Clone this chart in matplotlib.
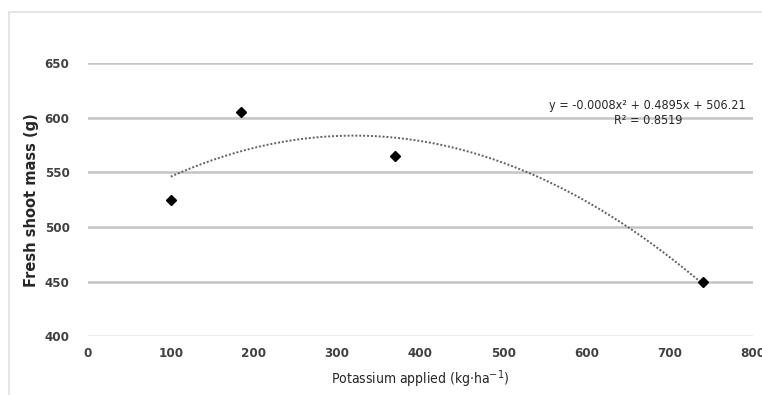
import matplotlib.pyplot as plt
import matplotlib.patches as patches
import numpy as np

# potassium rates and measured fresh shoot mass
potassium = np.array([100, 185, 370, 740])
shoot_mass = np.array([525, 605, 565, 450])

x_ticks = [0, 100, 200, 300, 400, 500, 600, 700, 800]
y_ticks = [400, 450, 500, 550, 600, 650]

narrow = ['Liberation Sans Narrow', 'DejaVu Sans']
tick_color = '#404040'

fig = plt.figure(figsize=(7.62, 3.95), dpi=100)
ax = fig.add_axes([0.115, 0.149, 0.873, 0.691])

# light frame around the chart area
fig.patches.append(patches.Rectangle((0.012, -0.02), 1.0, 0.99, transform=fig.transFigure,
                                     fill=False, edgecolor='#e0e0e0', linewidth=1.2))

for yv in y_ticks:
    c = '#e6e6e6' if yv == 400 else '#c4c4c4'
    ax.axhline(yv, color=c, linewidth=1.8, zorder=1)

# polynomial (order 2) trendline
coef = np.polyfit(potassium, shoot_mass, 2)
xs = np.linspace(potassium.min(), potassium.max(), 200)
ax.plot(xs, np.polyval(coef, xs), linestyle=(0, (1, 1)), color='#606060', linewidth=1.4, zorder=2)

ax.plot(potassium, shoot_mass, linestyle='none', marker='D', markersize=5.5,
        color='black', zorder=3)

ax.set_xlim(0, 800)
ax.set_ylim(400, 650)
ax.set_xticks(x_ticks)
ax.set_yticks(y_ticks)
for s in ax.spines.values():
    s.set_visible(False)
ax.tick_params(length=0, labelsize=9.5, labelcolor=tick_color)
ax.tick_params(axis='y', pad=13)
ax.tick_params(axis='x', pad=8)
for lab in ax.get_xticklabels() + ax.get_yticklabels():
    lab.set_family(narrow)
    lab.set_fontweight('bold')
    lab.set_fontstretch('condensed')

ax.set_ylabel('Fresh shoot mass (g)', fontsize=10.5, fontweight='bold', color='#262626',
              labelpad=4)
ax.set_xlabel('Potassium applied (kg\u00b7ha$^{-1}$)', fontsize=10, family=narrow,
              fontstretch='condensed', color='#262626', labelpad=6)

ax.text(0.842, 0.87, 'y = -0.0008x\u00b2 + 0.4895x + 506.21\nR\u00b2 = 0.8519',
        transform=ax.transAxes, ha='center', va='top', fontsize=9, family=narrow,
        fontstretch='condensed', color='#262626', linespacing=1.25)

fig.savefig('out.png', dpi=100)
